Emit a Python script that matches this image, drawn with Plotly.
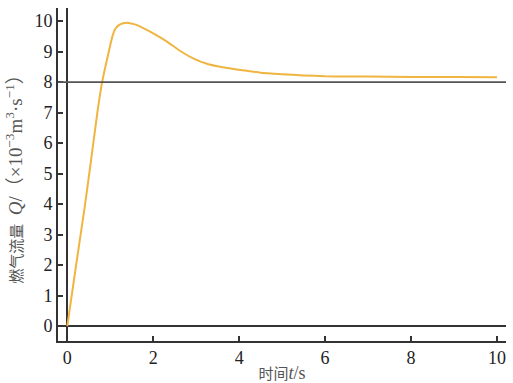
import plotly.graph_objects as go

t = [0, 0.2, 0.4, 0.55, 0.7, 0.81, 0.95, 1.05, 1.12, 1.2, 1.3, 1.4, 1.55, 1.7, 2.0, 2.32, 2.63, 2.94, 3.25, 3.56, 3.87, 4.18, 4.49, 5.0, 5.5, 6.0, 6.5, 7.0, 8.0, 9.0, 10.0]
Q = [0, 1.95, 3.85, 5.4, 7.0, 8.0, 8.9, 9.5, 9.75, 9.87, 9.93, 9.95, 9.9, 9.82, 9.6, 9.33, 9.02, 8.77, 8.6, 8.5, 8.43, 8.37, 8.31, 8.26, 8.22, 8.19, 8.18, 8.18, 8.17, 8.17, 8.16]
ref_level = 8
x_ticks = [0, 2, 4, 6, 8, 10]
y_ticks = list(range(0, 11))

axis_col = "#333333"
serif = "Liberation Serif, Times New Roman, serif"
cjk = "Liberation Serif, Noto Sans CJK SC, serif"

y_title = ("燃气流量 <span style='font-size:19px'> <i>Q</i>/（×10<sup>−3</sup>m<sup>3</sup>·s<sup>−1</sup>）</span>")
x_title = "时间<span style='font-size:18px'><i>t</i>/s</span>"

fig = go.Figure()
fig.add_trace(go.Scatter(x=t, y=Q, mode="lines",
                         line=dict(color="#F0B440", width=2, shape="spline", smoothing=0.4),
                         hoverinfo="skip", showlegend=False))
fig.add_hline(y=ref_level, line=dict(color="#555555", width=1.6))

fig.update_layout(
    width=513, height=383,
    margin=dict(l=58, r=7, t=8, b=42, autoexpand=False),
    paper_bgcolor="white", plot_bgcolor="white",
    showlegend=False,
)
fig.update_xaxes(
    automargin=False,
    range=[-0.216, 10.21], tickvals=x_ticks, ticks="inside", ticklen=5, tickwidth=1.5,
    tickcolor=axis_col, showline=True, linecolor=axis_col, linewidth=1.6,
    showgrid=False, zeroline=True, zerolinecolor=axis_col, zerolinewidth=1.6,
    tickfont=dict(family=serif, size=18, color="#222222"),
    title=dict(text=x_title, font=dict(family=cjk, size=15, color="#555555"), standoff=2),
)
fig.update_yaxes(
    automargin=False,
    range=[-0.49, 10.43], tickvals=y_ticks, ticks="inside", ticklen=5, tickwidth=1.5,
    tickcolor=axis_col, showline=True, linecolor=axis_col, linewidth=1.6,
    showgrid=False, zeroline=True, zerolinecolor=axis_col, zerolinewidth=1.6,
    tickfont=dict(family=serif, size=18, color="#222222"),
    title=dict(text=y_title, font=dict(family=cjk, size=15, color="#555555"), standoff=8),
)
fig.write_html("out.html")
